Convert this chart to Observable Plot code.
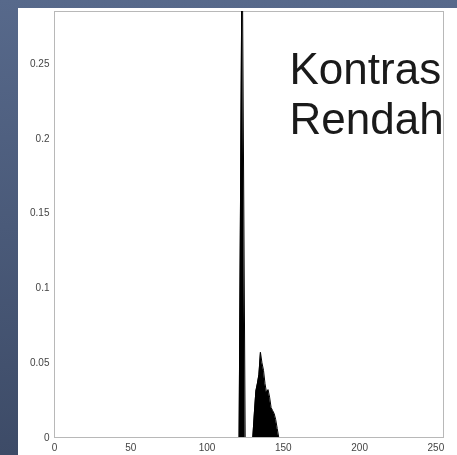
<!DOCTYPE html>
<html>
<head>
<meta charset="utf-8">
<script src="https://cdn.jsdelivr.net/npm/d3@7"></script>
<script src="https://cdn.jsdelivr.net/npm/@observablehq/plot@0.6"></script>
<style>
  html, body { margin: 0; padding: 0; }
  body {
    width: 457px; height: 455px; overflow: hidden; position: relative;
    background: linear-gradient(#57698b, #3d4b67);
    font-family: "Liberation Sans", Arial, sans-serif;
  }
  #panel {
    position: absolute; left: 18px; top: 8px; width: 439px; height: 447px;
    background: #fff; overflow: hidden;
  }
  #panel svg { filter: blur(0.45px); }
</style>
</head>
<body>
<div id="panel"></div>
<script>
// Histogram (gray level -> normalized frequency), only the non-empty region
const levels = [121, 123, 125, 130, 131, 132, 133, 134, 135, 136, 137, 138, 139, 140, 141, 142, 143, 144, 145, 146, 147];
const freqs  = [0, 0.34, 0, 0, 0.016, 0.031, 0.036, 0.042, 0.057, 0.05, 0.045, 0.036, 0.03, 0.032, 0.027, 0.02, 0.018, 0.016, 0.012, 0.006, 0];
const xTicks = [0, 50, 100, 150, 200, 250];
const yTicks = [0, 0.05, 0.1, 0.15, 0.2, 0.25];
const labelLines = ["Kontras", "Rendah"];

const data = levels.map((l, i) => ({level: l, freq: freqs[i]}));

const chart = Plot.plot({
  width: 439,
  height: 447,
  marginLeft: 36,
  marginTop: 3,
  marginRight: 14,
  marginBottom: 18,
  style: {background: "#fff", fontFamily: "'Liberation Sans', Arial, sans-serif", fontSize: "10px", color: "#444"},
  x: {domain: [0, 255], ticks: xTicks, tickSize: 0, tickPadding: 6, label: null, tickFormat: d => String(d)},
  y: {domain: [0, 0.285], ticks: yTicks, tickSize: 0, tickPadding: 5, label: null, tickFormat: d => String(d)},
  marks: [
    Plot.frame({stroke: "#b8b8b8"}),
    Plot.areaY(data, {x: "level", y: "freq", fill: "#000", clip: true}),
    Plot.lineY(data, {x: "level", y: "freq", stroke: "#000", strokeWidth: 1, clip: true}),
    Plot.text([labelLines.join("\n")], {
      frameAnchor: "top-right", textAnchor: "start", lineAnchor: "top",
      dx: -154, dy: 37, fontSize: 44, lineHeight: 1.14, fill: "#1a1a1a",
      fontFamily: "'Liberation Sans', Arial, sans-serif"
    })
  ]
});
document.getElementById("panel").appendChild(chart);
</script>
</body>
</html>
